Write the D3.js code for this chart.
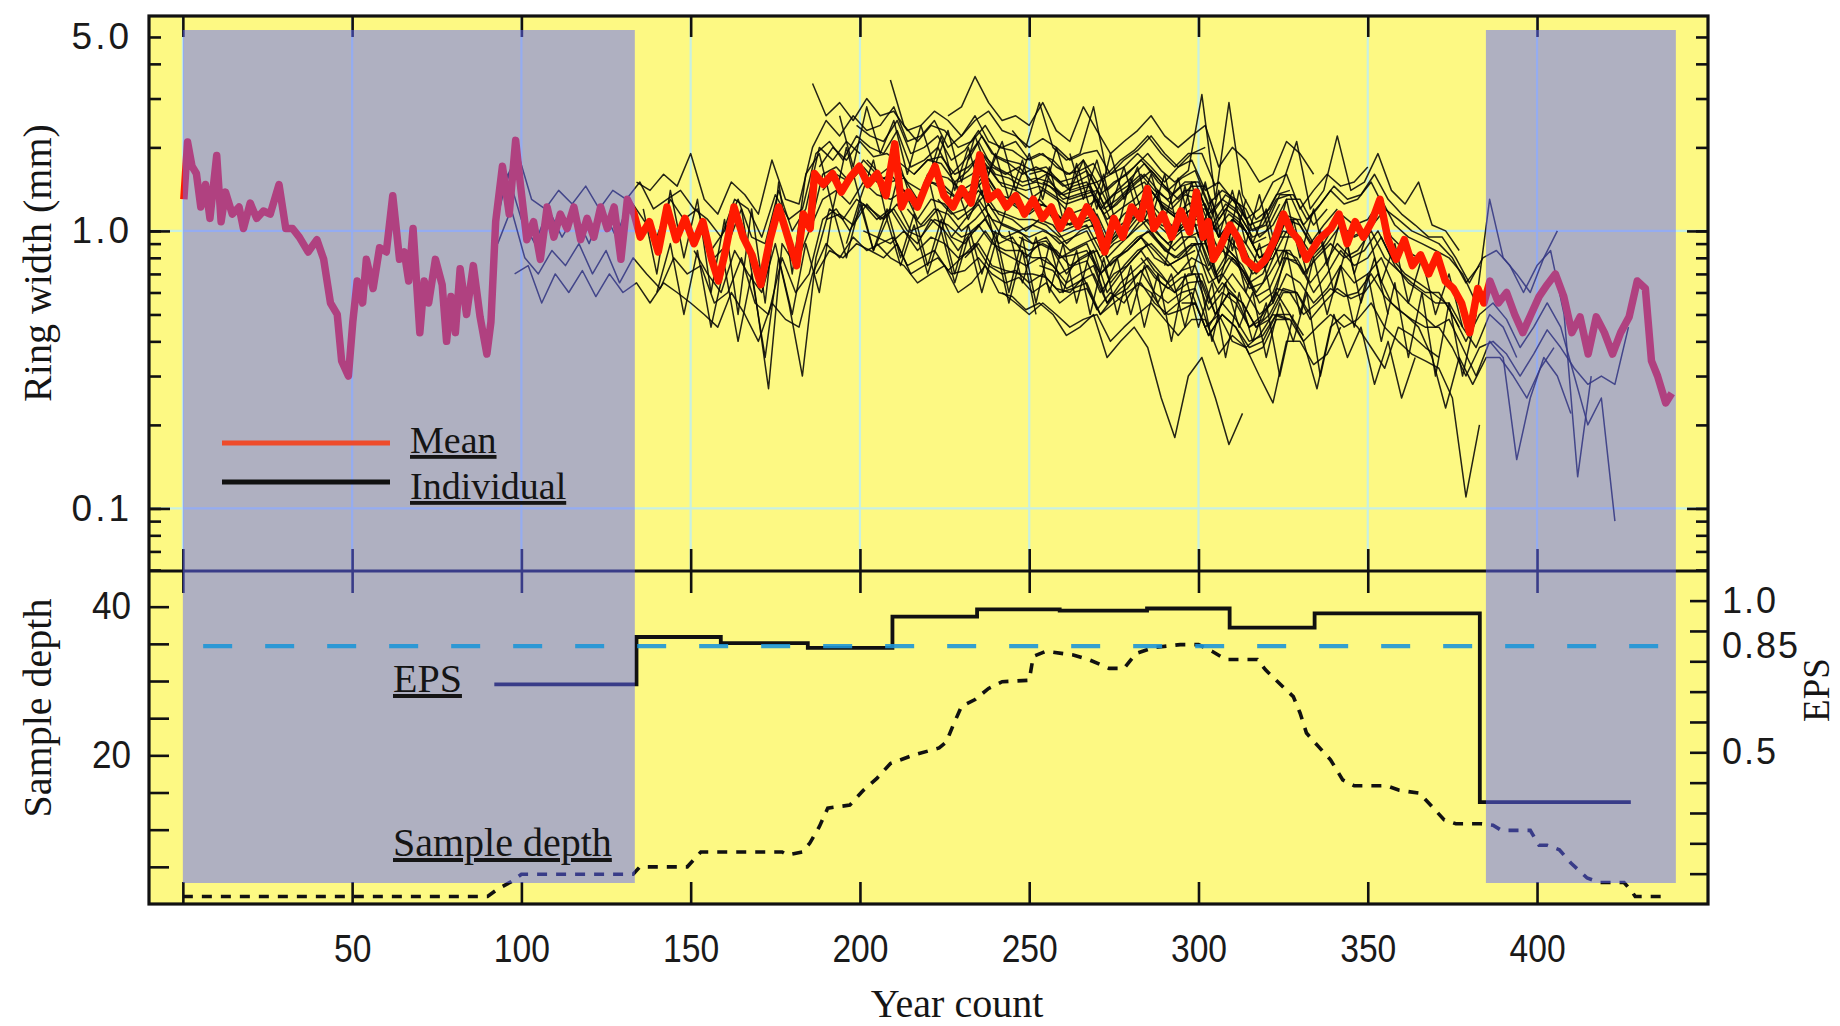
<!DOCTYPE html>
<html>
<head>
<meta charset="utf-8">
<script src="https://cdn.jsdelivr.net/npm/d3@7"></script>
<style>
  body { margin: 0; background: #ffffff; }
  svg { display: block; }
  .serif { font-family: "Liberation Serif", "DejaVu Serif", serif; fill: #151515; }
  .gothic { font-family: "Liberation Sans", Arial, sans-serif; fill: #1a1a1a; }
  .narrow { font-family: "Liberation Sans Narrow", "Liberation Sans", Arial, sans-serif; fill: #1a1a1a; }
</style>
</head>
<body>
<svg id="chart" width="1840" height="1026"></svg>
<script>
// ---------- data ----------
// Mean ring-width chronology (year count, mm)
const meanSeries = [
  [0.3,1.30],[1.4,2.09],[2.7,1.71],[4,1.61],[5.3,1.22],[6.7,1.47],[8,1.11],[10,1.87],[11.3,1.08],[12.6,1.38],
  [14.6,1.15],[16.6,1.22],[17.9,1.02],[19.9,1.26],[21.8,1.11],[23.8,1.18],[25.8,1.15],[28.4,1.47],[30.4,1.02],[32.4,1.02],
  [34.4,0.95],[37,0.84],[39.6,0.93],[41.6,0.79],[43.6,0.55],[45.6,0.50],[46.9,0.34],[48.9,0.30],[50.2,0.47],[51.5,0.66],
  [53.1,0.55],[54.2,0.79],[56.2,0.62],[58.1,0.87],[60.1,0.84],[62,1.34],[64,0.79],[65.4,0.84],[66.7,0.66],[68,1.02],
  [70,0.43],[71.3,0.66],[72.6,0.55],[74.6,0.79],[76.6,0.64],[77.9,0.40],[79.2,0.58],[80.5,0.43],[81.9,0.73],[83.8,0.50],
  [85.8,0.75],[87.8,0.49],[89.8,0.36],[91,0.47],[92.4,1.08],[94.4,1.71],[96.4,1.15],[98.3,2.12],[99.7,1.47],[101.6,0.93],
  [103.6,1.08],[105.6,0.79],[107.6,1.22],[109.6,0.95],[111.5,1.15],[113.5,1.02],[115.5,1.22],[117.5,0.93],[119.4,1.11],[121.4,0.95],
  [123.4,1.22],[125.4,1.02],[127.4,1.22],[129.4,0.79],[131.3,1.30],[133.3,1.15],[135.1,0.95],[137.8,1.08],[140.4,0.84],[143,1.22],
  [145.7,0.93],[148.3,1.11],[151,0.90],[153.6,1.08],[156.2,0.79],[158.2,0.66],[160.2,0.84],[162.8,1.22],[165.5,0.95],[168.1,0.82],
  [170.7,0.64],[173.4,0.93],[176,1.22],[178.7,0.95],[181.3,0.75],[183.3,1.15],[185.3,1.02],[186.6,1.61],[189.2,1.47],[191.9,1.61],
  [194.5,1.38],[197.1,1.56],[199.8,1.71],[202.4,1.47],[205.1,1.61],[207.7,1.34],[210.3,2.06],[212.3,1.22],[214.3,1.38],[217,1.22],
  [219.6,1.47],[222.2,1.71],[224.8,1.34],[227.5,1.22],[230.1,1.42],[232.8,1.26],[235.4,1.88],[238,1.30],[240.7,1.38],[243.3,1.22],
  [246,1.34],[248.6,1.15],[251.2,1.30],[253.9,1.11],[256.5,1.22],[259.1,1.02],[261.8,1.18],[264.4,1.04],[267,1.22],[269.7,1.08],
  [272.3,0.84],[275,1.11],[277.6,0.95],[280.2,1.22],[282.9,1.11],[284.9,1.42],[286.8,1.02],[289.5,1.15],[292.1,0.95],[294.8,1.18],
  [297.4,0.99],[299.4,1.38],[301.4,0.95],[302.9,1.08],[304.4,0.79],[306.5,0.88],[309.3,1.05],[311.9,0.93],[313.8,0.79],[317.2,0.73],
  [319.8,0.79],[322.5,0.93],[325.1,1.15],[327.3,1.00],[329.5,0.93],[331.9,0.79],[335.5,0.93],[339.1,1.02],[341.5,1.15],[343.9,0.90],
  [346.3,1.08],[348.7,0.95],[351.2,1.08],[353.6,1.30],[356,0.93],[358.4,0.79],[360.8,0.93],[363.2,0.75],[365.6,0.82],[368,0.70],
  [370.5,0.82],[372.9,0.66],[375.3,0.62],[377.7,0.55],[380.1,0.43],[382.5,0.62],[384.3,0.55],[386.1,0.66],[388.6,0.55],[391,0.60],
  [393.4,0.50],[395.8,0.43],[398.2,0.50],[400.6,0.58],[403,0.64],[405.4,0.70],[407.9,0.58],[410.3,0.43],[412.7,0.49],[415.1,0.36],
  [417.5,0.49],[419.9,0.43],[422.3,0.36],[424.7,0.43],[427.2,0.49],[429.6,0.66],[432,0.62],[433.8,0.34],[435.6,0.30],[438,0.24],
  [439.8,0.26]
];

// Individual sample series: first year of each, then widths (mm) every ringStep years
const ringStep = 4;
const ringSeriesStart = [92,93,95,98,134,151,153,185,186,187,188,189,190,199,201,202,205,209,214,216,223,226,227,229,231,232,235,238,242,245,247,250,252,253,254,281,283,286,295,
                         136,140,194,196,220,244,262,290];
const ringSeries = [
  [1.0,1.6,1.1,0.9,1.2,0.95,1.15,0.9,1.2,0.95,1.3,1.1,0.95,1.3,1.1,1.2,0.85,1.0,1.3,0.95,0.9,1.4,1.0,1.2,2.0,1.8,2.1,1.9],
  [0.9,1.2,0.8,0.7,0.85,0.75,0.9,0.7,0.85,0.65,0.8,0.7,0.62,0.8,0.7,0.75,0.55,0.6,0.8,0.55,0.5,0.8,0.6,0.7,1.1,1.2,1.0,1.25,1.1,1.2,1.0,0.9,1.1,1.0,0.85,1.0,1.1,0.9,0.95,0.8,0.9,0.85,0.7,0.8,0.85,0.6,0.7,0.8,0.9],
  [1.5,1.9,1.3,1.2,1.4,1.25,1.45,1.2,1.4,1.3,1.5,1.2,1.3,1.4,1.2,1.1,0.95,1.3,1.2,0.95,1.35,1.1,1.2,1.9,2.1,1.8,2.2,2.0,1.9,2.3,1.7,1.8,2.0,1.6,1.8,2.1,1.7,1.6,1.7,1.5,1.6,1.35,1.45,1.5,1.2,1.35,1.45,1.6,1.4,1.3,1.45,1.5,1.15,1.3,1.2,1.0,1.05,1.3,1.35,1.05,1.2,1.4,1.25,1.3,1.5,1.2,1.1,1.0,0.95,0.9,0.8,0.65,0.75],
  [0.7,0.75,0.55,0.7,0.6,0.72,0.58,0.7,0.6,0.65,0.55,0.65,0.6,0.55,0.5,0.45,0.6,0.5,0.4,0.55,0.48,0.45,0.7,0.9,0.8,0.95,0.85,0.9,0.95,0.75,0.8,0.85,0.72,0.8,0.9,0.75,0.7,0.72,0.65,0.7,0.62,0.6,0.68,0.52,0.6,0.55,0.65,0.6,0.5,0.55,0.6,0.45,0.5,0.4,0.38,0.42,0.5,0.48],
  [1.5,1.4,1.6,1.45,1.9,1.3,1.15,1.5,1.35,1.15,1.8,1.3,1.25,2.0,2.5,2.2,2.6,2.3,2.4,2.8,2.1,2.2,2.5,2.0,2.2,2.6,2.1,2.0,2.1,1.8,1.9,1.7,1.6,1.8,1.5,1.6,1.7,1.9,1.7,1.5,1.7,1.8,1.4,1.5,1.3,1.1,1.2,1.5,1.6,1.2,1.4,1.6,1.45,1.5,1.7],
  [0.85,0.7,0.6,0.85,0.7,0.6,0.9,0.55,0.3,0.8,1.2,1.1,1.3,1.2,1.1,1.25,1.0,1.05,1.2,0.95,1.1,1.25,1.0,0.95,1.0,0.9,0.95,0.8,0.85,0.9,0.7,0.8,0.85,0.95,0.85,0.75,0.8,0.9,0.65,0.7,0.6],
  [1.1,0.8,0.9,1.2,0.6,0.27,0.9,0.75,1.0,1.6,1.7,1.5,1.8,1.6,1.5,1.55,1.3,1.5,1.45,1.3,1.4,1.6,1.35,1.3,1.2,1.3,1.15],
  [1.0,1.3,1.4,1.25,1.5,1.35,1.3,1.4,1.1,1.3,1.25,1.1,1.2,1.35,1.15,1.1,1.0,1.1,1.05,0.9,1.0,1.05,0.8,0.9,1.0,1.1,0.95,0.85,0.95,1.0,0.7,0.85,0.75,0.6,0.7,0.85,0.8,0.65,0.75,0.9,0.8,0.85,1.0,0.8,0.7,0.65,0.6,0.55,0.45],
  [3.4,2.6,2.9,2.5,3.0,2.6,2.7,2.3,2.4,2.7,2.5,2.2,2.5,2.7,2.3,2.2,2.0,2.15,2.0,1.8,1.9,1.95,1.6,1.8,1.95,2.2,1.9,1.7,1.9,2.0],
  [0.7,0.85,0.8,0.9,0.85,0.8,0.9,0.7,0.75,0.8,0.7,0.72,0.8,0.7,0.65,0.68,0.6,0.65,0.55,0.6,0.62,0.5,0.55,0.6,0.65,0.55,0.5,0.52,0.55,0.42,0.5,0.45,0.38,0.4,0.5,0.5,0.42],
  [1.7,2.0,1.8,2.1,1.85,1.9,1.75,1.6,1.8,1.75,1.5,1.65,1.9,1.6,1.55,1.45,1.5,1.45,1.3,1.35,1.4,1.15,1.25,1.4,1.5,1.3,1.2,1.35,1.3,1.0,1.2,1.1,0.9,0.95],
  [1.4,1.6,1.5,1.7,1.5,1.6,1.4,1.25,1.5,1.4,1.3,1.35,1.55,1.3,1.25,1.15,1.25,1.2,1.05,1.1,1.2,0.9,1.05,1.15,1.3,1.05,1.0,1.1,1.15,0.85,1.0,0.9,0.7,0.8,1.0,0.95,0.8,0.9,1.1,0.95,1.0,1.2,0.95,0.85,0.8],
  [1.1,1.15,1.05,1.25,1.1,1.2,1.0,0.95,1.1,1.05,0.95,1.0,1.15,0.95,0.9,0.85,0.9,0.85,0.75,0.8,0.85,0.65,0.75,0.85,0.9,0.8,0.7,0.8,0.75,0.6,0.7,0.6,0.5,0.55,0.7,0.65,0.55,0.62,0.75,0.65,0.7,0.8,0.62,0.55,0.5,0.45,0.48,0.38,0.3,0.4,0.35,0.15,0.25,0.35,0.3,0.22],
  [2.4,2.2,2.1,2.5,1.9,2.0,2.2,1.8,1.95,2.3,1.9,1.8,1.75,1.65,1.7,1.5,1.55,1.65,1.35,1.5,1.6,1.8,1.6,1.4,1.55,1.65,1.25,1.4,1.3,1.05,1.1,1.35,1.4],
  [1.0,0.95,0.9,1.0,0.85,0.95,0.9,0.8,0.85,1.0,0.85,0.8,0.75,0.8,0.75,0.65,0.7,0.75,0.55,0.65,0.72,0.8,0.7,0.6,0.7,0.7,0.5,0.6,0.55,0.45,0.5,0.62,0.6,0.5],
  [1.8,1.6,1.75,1.5,1.4,1.6,1.55,1.4,1.5,1.7,1.45,1.4,1.3,1.4,1.3,1.15,1.2,1.3,1.0,1.15,1.25,1.4,1.2,1.1,1.2,1.25,0.95,1.1,1.0,0.8,0.85,1.1,1.05,0.88,1.0],
  [0.9,0.8,0.75,0.65,0.7,0.75,0.6,0.65,0.75,0.6,0.58,0.52,0.55,0.5,0.42,0.45,0.5,0.35,0.4,0.45,0.38,0.25,0.18,0.3,0.35,0.25,0.17,0.22],
  [3.5,2.4,2.1,2.4,2.3,2.0,2.1,2.4,2.0,1.95,1.8,1.9,1.8,1.6,1.65,1.75,1.4,1.55,1.7,1.9,1.65,1.5,1.65,3.1,1.3,2.9,1.35,1.1,1.2,1.5,2.1,1.2,1.4,2.2,1.4,1.5,1.9,1.4,1.25,1.5,1.05,1.0,0.85],
  [1.2,1.05,1.2,1.15,1.0,1.1,1.25,1.05,1.0,0.95,1.0,0.95,0.85,0.9,0.95,0.75,0.85,0.95,1.0,0.85,0.8,0.9,0.9,0.65,0.8,0.7,0.55,0.6,0.8,0.75,0.6,0.7,0.85,0.75,0.8,0.95,0.75,0.65,0.6,0.55,0.55,0.45,0.38,0.5,0.45,0.35],
  [1.6,1.8,1.85,1.6,1.7,1.9,1.7,1.6,1.5,1.55,1.5,1.35,1.4,1.45,1.2,1.3,1.45,1.6,1.4,1.25,1.4,1.4,1.05,1.25,1.15,0.95,1.0,1.25],
  [1.3,1.15,1.2,1.4,1.2,1.15,1.1,1.1,1.05,0.95,1.0,1.05,0.85,0.95,1.0,1.15,1.0,0.9,1.0,1.05,0.75,0.9,0.8,0.65,0.7,0.9],
  [2.6,2.8,3.6,2.9,2.5,2.6,2.4,2.9,2.3,2.1,2.8,2.3,1.9,2.1,2.3,2.6,2.2,2.0,2.2,2.4,1.7,2.0,1.8,1.5,1.6,2.1,1.9,1.6],
  [0.95,0.9,1.05,0.9,0.85,0.85,0.8,0.8,0.7,0.75,0.78,0.6,0.7,0.75,0.85,0.72,0.65,0.72,0.75,0.55,0.65,0.58,0.45,0.5,0.6,0.5,0.4,0.27,0.45,0.5,0.45,0.38,0.32,0.45,0.42,0.38,0.35],
  [1.5,1.6,1.75,1.5,1.45,1.4,1.45,1.35,1.25,1.3,1.35,1.1,1.2,1.3,1.45,1.25,1.15,1.25,1.3,1.0,1.15,1.05,0.85,0.9,1.15,1.1,0.9,1.05,1.2],
  [0.8,0.9,0.75,0.72,0.7,0.7,0.68,0.6,0.62,0.65,0.5,0.58,0.62,0.72,0.6,0.55,0.6,0.62,0.45,0.55,0.48,0.4,0.42,0.5,0.48],
  [1.8,2.2,1.85,1.75,1.6,1.7,1.6,1.45,1.5,1.6,1.25,1.4,1.55,1.75,1.5,1.35,1.5,1.5,1.15,1.35,1.25,1.0,1.05,1.35,1.35,1.1,1.25,1.45,1.3,1.35,1.6,1.3,1.15,1.05,0.95,0.95,0.8,0.65,0.8,0.85,0.75,0.6,0.75,0.85,0.5,0.13,0.3],
  [1.3,1.1,1.05,1.0,1.05,1.0,0.9,0.95,1.0,0.8,0.9,0.95,1.1,0.95,0.85,0.95,0.95,0.72,0.85,0.78,0.62,0.65,0.85,0.85,0.7,0.8,0.9,0.8,0.85,1.0,0.8,0.72,0.65,0.6,0.6,0.5,0.4,0.5,0.55,0.48,0.38,0.45,0.55,0.45,0.3,0.2,0.25,0.09],
  [1.55,1.3,1.25,1.15,1.25,1.15,1.05,1.1,1.15,0.9,1.0,1.15,1.25,1.1,1.0,1.1,1.1,0.85,1.0,0.9,0.75,0.8,1.0,0.95,0.8,0.9,1.05,0.95,1.0,1.15],
  [0.6,0.55,0.5,0.55,0.5,0.45,0.48,0.5,0.4,0.45,0.5,0.55,0.48,0.42,0.48,0.48,0.36,0.42,0.38,0.3,0.24,0.4,0.4,0.33,0.36,0.45],
  [2.3,2.0,2.9,2.0,1.8,1.9,2.8,1.6,1.8,1.95,2.2,1.9,1.7,1.9,1.9,1.45],
  [0.95,0.9,0.92,0.8,0.82,0.85,0.7,0.78,0.85,0.95,0.8,0.75,0.8,0.85],
  [1.6,1.65,1.55,1.4,1.45,1.5,1.2,1.35,1.5,1.65,1.45,1.3,1.45,1.45,1.1,1.3,1.2,0.95,1.05,1.3,1.3,1.05,1.2],
  [1.2,1.15,1.0,1.05,1.1,0.85,0.98,1.1,1.2,1.05,0.95,1.05,1.05,0.8,0.95,0.85,0.7,0.75,0.95,0.95],
  [0.75,0.72,0.62,0.66,0.7,0.55,0.62,0.68,0.75,0.65,0.6,0.65,0.66,0.5,0.6,0.55,0.45,0.48,0.6,0.6,0.48,0.55,0.62,0.57,0.6,0.7,0.55,0.5,0.45,0.35,0.23,0.35,0.28,0.35,0.35,0.3,0.25,0.32,0.38],
  [1.5,1.4,1.3,1.35,1.4,1.1],
  [0.9,1.0,0.88,0.8,0.88,0.9,0.68,0.8,0.72,0.58,0.62,0.8,0.78],
  [0.8,0.68,0.62,0.68,0.7,0.52,0.6,0.55,0.45,0.48,0.62,0.6,0.5,0.55,0.62,0.58,0.6,0.7,0.58,0.52,0.48,0.45,0.45,0.38,0.3,0.38,0.4,0.36,0.3,0.36,0.44,0.38,0.32,0.28,0.3,0.28,0.45],
  [1.4,1.2,1.1,1.2,1.2,0.95,1.1,1.0,0.8,0.88,1.1,1.1,0.9,1.0,1.15,1.05,1.1,1.3,1.05,0.95,0.9,0.85,0.8,0.7,0.55,1.3,0.8,0.7,0.6,0.8,1.0],
  [0.55,0.55,0.42,0.5,0.45,0.36,0.38,0.48,0.48,0.4,0.45,0.5,0.45,0.48,0.55,0.45,0.4,0.36,0.34,0.32,0.25,0.11,0.2],
  [1.2,0.7,1.4,0.8,1.3,0.6,1.1,0.5,1.2,0.55,1.5,0.7,1.6,1.9,1.2,2.0,1.3,1.8,1.1,1.7,1.2,1.6,1.0,1.5,1.1,1.4,0.9,1.3],
  [0.6,0.9,0.5,0.85,0.45,0.75,0.4,0.7,0.35,0.8,0.5,0.9,0.6,1.2,0.8,1.25,0.85,1.1,0.75,1.05,0.7,1.0,0.65,0.95,0.6,0.9,0.55,0.85,0.5],
  [2.6,1.7,2.8,1.9,2.5,1.6,2.4,1.7,2.3,1.5,2.2,1.6,2.1,1.4,1.9,1.3,2.0,1.4,1.8,1.2,1.9,1.3,1.7,1.1,1.6,1.0,1.5,0.9,1.4,0.85,1.3],
  [0.9,1.3,0.85,1.2,0.8,1.15,0.75,1.1,0.7,1.05,0.7,1.0,0.6,0.95,0.55,0.9,0.6,0.85,0.5,0.8,0.5,0.75,0.45,0.7,0.4,0.7,0.45,0.65,0.35,0.6,0.4,0.55,0.3,0.5],
  [1.5,2.2,1.4,2.0,1.35,1.9,1.3,1.8,1.2,1.7,1.1,1.75,1.2,1.6,1.0,1.55,1.1,1.4,0.9,1.45,0.95,1.3,0.8,1.4,0.9,1.2,0.75,1.1,0.7,1.0,0.6,0.9,0.55,0.8,0.5],
  [1.0,0.65,0.95,0.6,0.9,0.55,0.85,0.6,0.8,0.5,0.75,0.55,0.7,0.45,0.7,0.4,0.65,0.45,0.6,0.35,0.55,0.4,0.6,0.3,0.5,0.35,0.45,0.28,0.4,0.25,0.35],
  [1.9,1.3,1.8,1.2,1.7,1.15,1.6,1.1,1.55,1.0,1.5,0.95,1.4,0.9,1.35,0.85,1.3,0.8,1.2,0.75,1.1,0.7,1.0,0.65,0.9,0.55,0.8,0.5,0.7,0.45],
  [0.75,1.1,0.7,1.0,0.65,0.95,0.6,0.9,0.55,0.85,0.5,0.8,0.5,0.75,0.45,0.7,0.4,0.65,0.35,0.6,0.3,0.55,0.3,0.5]
];

// Number of samples per year (year count, samples)
const sampleDepth = [
  [0,1],[90,1],[93,2],[97,3],[100,4],[133,4],[135,5],[149,5],[153,7],[177,7],[178.5,6.6],[183,7],[185.2,8.2],[188,10.4],
  [190.5,12.9],[197,13.3],[201,15.3],[205,16.9],[209,18.9],[215.6,20],[223.4,21],[225.5,21.8],[227.4,23.9],[230,26.6],
  [234,27.5],[238,29],[242,29.9],[250,30.1],[251.2,33.3],[255,34],[263,33.5],[268,32.8],[273.6,31.7],[278,31.7],
  [281.5,33.7],[286.8,34.5],[294.6,34.9],[300,34.9],[304,34],[308,32.9],[317.4,32.9],[319.8,31.5],[323.4,29.9],[328,27.9],
  [330,25.7],[331.9,23],[335.4,21.2],[339,19.4],[342.6,16.7],[346,15.9],[355.7,15.9],[359.3,15.3],[365.3,14.9],[369,13.1],
  [372.6,11.3],[376,10.8],[383.3,10.8],[387,10.6],[389.5,9.9],[398,9.9],[400.6,7.9],[403,7.9],[406.6,7.3],[410,5.5],
  [414.8,3.5],[418.5,2.9],[425.7,2.9],[428,1.7],[429,1],[437.8,1]
];

// Expressed population signal, stepwise (year the level starts, EPS)
const epsSteps = [
  [92,0.724],[134,0.88],[158.9,0.86],[184.6,0.844],[209.6,0.947],[234.6,0.971],[259,0.967],[284.8,0.974],
  [309.2,0.911],[334.3,0.958],[383.1,0.336],[427.7,0.336]
];
const epsThreshold = 0.85;
const thresholdSpan = [6, 443.5];

// Periods with too few samples (year count)
const maskedSpans = [[0,133.5],[384.9,441]];

// Axis ticks and labels
const xTickValues = [0,50,100,150,200,250,300,350,400];
const xTickLabels = [50,100,150,200,250,300,350,400];
const ringMajorTicks = [0.1, 1];
const ringLabelTicks = [5, 1, 0.1];
const ringLabelText = ["5.0", "1.0", "0.1"];
const depthTicks = [5,10,15,20,25,30,35,40];
const depthLabelTicks = [20, 40];
const epsTicks = [0.1,0.2,0.3,0.4,0.5,0.6,0.7,0.8,0.9,1.0];
const epsLabelTicks = [1.0, 0.85, 0.5];
const epsLabelText = ["1.0", "0.85", "0.5"];

// ---------- layout ----------
const frame = { left: 149, right: 1708, top: 16, split: 571, bottom: 904 };
const shade = { top: 30, bottom: 883 };
const colors = {
  panel: "#fdf983",
  grid: "#c8f0e2",
  mean: "#ff1a00",
  individual: "#060606",
  shade: "rgb(97,104,255)",
  threshold: "rgb(30,150,215)",
  legendMean: "#ee4b2b"
};

const svg = d3.select("#chart");

const x = d3.scaleLinear().domain([-10, 450.5]).range([frame.left, frame.right]);
const yRing = d3.scaleLog().domain([0.0595, 5.95]).range([frame.split, frame.top]);
const yDepth = d3.scaleLinear().domain([0, 44.8]).range([frame.bottom, frame.split]);
const yEps = d3.scaleLinear().domain([0, 1.0976]).range([frame.bottom, frame.split]);

const defs = svg.append("defs");
defs.append("clipPath").attr("id", "clipTop").append("rect")
  .attr("x", frame.left).attr("y", frame.top)
  .attr("width", frame.right - frame.left).attr("height", frame.split - frame.top);
defs.append("clipPath").attr("id", "clipBottom").append("rect")
  .attr("x", frame.left).attr("y", frame.split)
  .attr("width", frame.right - frame.left).attr("height", frame.bottom - frame.split);

// panel background
svg.append("rect")
  .attr("x", frame.left).attr("y", frame.top)
  .attr("width", frame.right - frame.left).attr("height", frame.bottom - frame.top)
  .attr("fill", colors.panel);

// light grid in the ring-width panel
const grid = svg.append("g").attr("stroke", colors.grid).attr("stroke-width", 2.2);
grid.selectAll("line.v").data(xTickValues).join("line")
  .attr("x1", d => x(d)).attr("x2", d => x(d))
  .attr("y1", frame.top).attr("y2", frame.split);
grid.selectAll("line.h").data(ringMajorTicks).join("line")
  .attr("x1", frame.left).attr("x2", frame.right)
  .attr("y1", d => yRing(d)).attr("y2", d => yRing(d));

// individual series
const ringLine = d3.line().x(d => x(d[0])).y(d => yRing(d[1]));
const indiv = svg.append("g").attr("clip-path", "url(#clipTop)");
indiv.selectAll("path").data(ringSeries.map((vals, i) =>
    vals.map((v, j) => [ringSeriesStart[i] + ringStep * j, v])))
  .join("path")
  .attr("d", ringLine)
  .attr("fill", "none")
  .attr("stroke", colors.individual)
  .attr("stroke-width", 1.5)
  .attr("stroke-opacity", 0.88)
  .attr("stroke-linejoin", "round");

// mean chronology
svg.append("path")
  .datum(meanSeries)
  .attr("clip-path", "url(#clipTop)")
  .attr("d", ringLine)
  .attr("fill", "none")
  .attr("stroke", colors.mean)
  .attr("stroke-width", 7.5)
  .attr("stroke-linejoin", "round");

// sample depth (dashed) and EPS (steps)
const bottomG = svg.append("g").attr("clip-path", "url(#clipBottom)");
bottomG.append("path")
  .datum(sampleDepth)
  .attr("d", d3.line().x(d => x(d[0])).y(d => yDepth(d[1])))
  .attr("fill", "none")
  .attr("stroke", "#111")
  .attr("stroke-width", 3.6)
  .attr("stroke-dasharray", "10,9");
bottomG.append("path")
  .datum(epsSteps)
  .attr("d", d3.line().curve(d3.curveStepAfter).x(d => x(d[0])).y(d => yEps(d[1])))
  .attr("fill", "none")
  .attr("stroke", "#111")
  .attr("stroke-width", 3.8);

// ---------- axes ----------
function tidy(g, width) {
  g.select(".domain").remove();
  g.selectAll(".tick line").attr("stroke", "#111").attr("stroke-width", width || 2.6);
  g.attr("font-family", null).attr("font-size", null);
}

// x ticks: top edge, panel divider (both sides), bottom edge
svg.append("g").attr("transform", `translate(0,${frame.top})`)
  .call(d3.axisTop(x).tickValues(xTickValues).tickSize(-21).tickFormat("")).call(tidy);
svg.append("g").attr("transform", `translate(0,${frame.split})`)
  .call(d3.axisTop(x).tickValues(xTickValues).tickSize(22).tickFormat("")).call(tidy);
svg.append("g").attr("transform", `translate(0,${frame.split})`)
  .call(d3.axisBottom(x).tickValues(xTickValues).tickSize(22).tickFormat("")).call(tidy);
svg.append("g").attr("transform", `translate(0,${frame.bottom})`)
  .call(d3.axisBottom(x).tickValues(xTickValues).tickSize(-22).tickFormat("")).call(tidy);

// ring-width log ticks, left and right
const ringTicks = yRing.ticks();
[["axisLeft", frame.left], ["axisRight", frame.right]].forEach(([fn, px]) => {
  svg.append("g").attr("transform", `translate(${px},0)`)
    .call(d3[fn](yRing).tickValues(ringTicks).tickSize(-12).tickFormat("")).call(tidy);
  svg.append("g").attr("transform", `translate(${px},0)`)
    .call(d3[fn](yRing).tickValues(ringMajorTicks).tickSize(-21).tickFormat("")).call(tidy);
});

// sample depth ticks (left) and EPS ticks (right)
svg.append("g").attr("transform", `translate(${frame.left},0)`)
  .call(d3.axisLeft(yDepth).tickValues(depthTicks).tickSize(-20).tickFormat("")).call(tidy);
svg.append("g").attr("transform", `translate(${frame.right},0)`)
  .call(d3.axisRight(yEps).tickValues(epsTicks).tickSize(-18).tickFormat("")).call(tidy);

// panel divider
svg.append("line")
  .attr("x1", frame.left).attr("x2", frame.right)
  .attr("y1", frame.split).attr("y2", frame.split)
  .attr("stroke", "#111").attr("stroke-width", 2.8);

// translucent masks over the poorly replicated ends
svg.append("g").selectAll("rect").data(maskedSpans).join("rect")
  .attr("x", d => x(d[0])).attr("width", d => x(d[1]) - x(d[0]))
  .attr("y", shade.top).attr("height", shade.bottom - shade.top)
  .attr("fill", colors.shade).attr("fill-opacity", 0.5);

// EPS threshold
svg.append("line")
  .attr("x1", x(thresholdSpan[0])).attr("x2", x(thresholdSpan[1]))
  .attr("y1", yEps(epsThreshold)).attr("y2", yEps(epsThreshold))
  .attr("stroke", colors.threshold).attr("stroke-opacity", 0.9)
  .attr("stroke-width", 4.2).attr("stroke-dasharray", "29,33");

// frame
svg.append("rect")
  .attr("x", frame.left).attr("y", frame.top)
  .attr("width", frame.right - frame.left).attr("height", frame.bottom - frame.top)
  .attr("fill", "none").attr("stroke", "#111").attr("stroke-width", 3.2);

// ---------- tick labels ----------
const xLab = svg.append("g").attr("transform", `translate(0,${frame.bottom})`)
  .call(d3.axisBottom(x).tickValues(xTickLabels).tickSize(0).tickPadding(31).tickFormat(d => String(d)));
tidy(xLab);
xLab.selectAll("text").attr("class", "narrow").attr("font-size", 38)
  .attr("textLength", d => String(d).length * 18.7).attr("lengthAdjust", "spacingAndGlyphs");

const ringLab = svg.append("g").attr("transform", `translate(${frame.left},0)`)
  .call(d3.axisLeft(yRing).tickValues(ringLabelTicks).tickSize(0).tickPadding(17)
    .tickFormat((d, i) => ringLabelText[i]));
tidy(ringLab);
ringLab.selectAll("text").attr("class", "gothic").attr("font-size", 37).attr("letter-spacing", 3);

const depthLab = svg.append("g").attr("transform", `translate(${frame.left},0)`)
  .call(d3.axisLeft(yDepth).tickValues(depthLabelTicks).tickSize(0).tickPadding(18).tickFormat(d => String(d)));
tidy(depthLab);
depthLab.selectAll("text").attr("class", "narrow").attr("font-size", 38)
  .attr("textLength", d => String(d).length * 19.5).attr("lengthAdjust", "spacingAndGlyphs");

const epsLab = svg.append("g").attr("transform", `translate(${frame.right},0)`)
  .call(d3.axisRight(yEps).tickValues(epsLabelTicks).tickSize(0).tickPadding(14)
    .tickFormat((d, i) => epsLabelText[i]));
tidy(epsLab);
epsLab.selectAll("text").attr("class", "gothic").attr("font-size", 36).attr("letter-spacing", 2);

// ---------- titles ----------
svg.append("text").attr("class", "serif").attr("font-size", 40)
  .attr("text-anchor", "middle").attr("x", 957).attr("y", 1017).text("Year count");
svg.append("text").attr("class", "serif").attr("font-size", 40)
  .attr("text-anchor", "middle").attr("transform", "translate(51,263) rotate(-90)").text("Ring width (mm)");
svg.append("text").attr("class", "serif").attr("font-size", 40)
  .attr("text-anchor", "middle").attr("transform", "translate(51,708) rotate(-90)").text("Sample depth");
svg.append("text").attr("class", "serif").attr("font-size", 37)
  .attr("text-anchor", "middle").attr("transform", "translate(1829,690) rotate(-90)").text("EPS");

// in-panel labels of the lower curves
svg.append("text").attr("class", "serif").attr("font-size", 40)
  .attr("text-decoration", "underline").attr("x", 393).attr("y", 692).text("EPS");
svg.append("text").attr("class", "serif").attr("font-size", 40)
  .attr("text-decoration", "underline").attr("x", 393).attr("y", 856).text("Sample depth");

// legend
const legend = [
  { label: "Mean", color: colors.legendMean, y: 443, dy: 10 },
  { label: "Individual", color: "#111", y: 482, dy: 17 }
];
const lg = svg.append("g");
lg.selectAll("line").data(legend).join("line")
  .attr("x1", 222).attr("x2", 390).attr("y1", d => d.y).attr("y2", d => d.y)
  .attr("stroke", d => d.color).attr("stroke-width", 5);
lg.selectAll("text").data(legend).join("text")
  .attr("class", "serif").attr("font-size", 38).attr("text-decoration", "underline")
  .attr("x", 410).attr("y", d => d.y + d.dy).text(d => d.label);
</script>
</body>
</html>
